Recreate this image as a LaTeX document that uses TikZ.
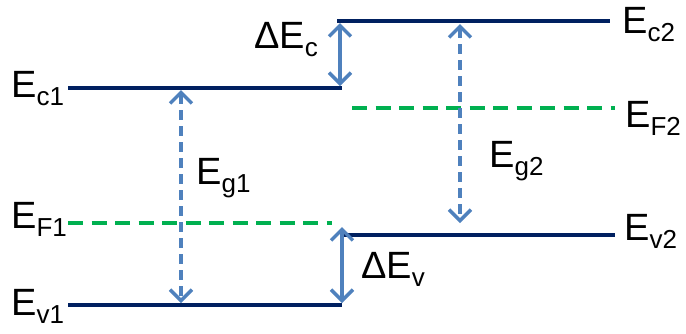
\documentclass[tikz,border=0pt]{standalone}
\usepackage{fontspec}
\setmainfont{Liberation Sans}
\usetikzlibrary{arrows.meta}
\definecolor{bandnavy}{RGB}{0,32,96}
\definecolor{arrowblue}{RGB}{79,129,189}
\definecolor{fermigreen}{RGB}{0,176,80}
% energy symbol with a lowered, smaller subscript
\newcommand\lvl[2]{#1\raisebox{-8pt}{\fontsize{26pt}{26pt}\selectfont #2}}
\tikzset{
  band/.style={draw=bandnavy, line width=4.5pt},
  fermi/.style={draw=fermigreen, line width=4.5pt, dash pattern=on 15pt off 8.5pt},
  offset/.style={draw=arrowblue, line width=3.5pt,
    {Straight Barb[length=11pt,width=22pt,line width=3.5pt]}-{Straight Barb[length=11pt,width=22pt,line width=3.5pt]}},
  gap/.style={offset, dash pattern=on 10pt off 6pt},
  lbl/.style={inner sep=0pt, anchor=base west, font=\fontsize{38pt}{38pt}\selectfont}
}
\begin{document}
\begin{tikzpicture}[x=1pt, y=1pt, yscale=-1]
\useasboundingbox (0,0) rectangle (686,333);

% band edges, left material
\coordinate (c1L) at (68,88);  \coordinate (c1R) at (342,88);
\coordinate (v1L) at (68,305); \coordinate (v1R) at (342,305);
\coordinate (f1L) at (68,223); \coordinate (f1R) at (332,223);
% band edges, right material
\coordinate (c2L) at (337,21); \coordinate (c2R) at (610,21);
\coordinate (v2L) at (343,235); \coordinate (v2R) at (615,235);
\coordinate (f2L) at (352,108); \coordinate (f2R) at (615,108);

\draw[band] (c1L) -- (c1R);
\draw[band] (v1L) -- (v1R);
\draw[band] (c2L) -- (c2R);
\draw[band] (v2L) -- (v2R);
\draw[fermi] (f1L) -- (f1R);
\draw[fermi] (f2L) -- (f2R);

% arrow end points
\coordinate (dcTop) at (340,23);  \coordinate (dcBot) at (340,86);
\coordinate (dvTop) at (342,227); \coordinate (dvBot) at (342,303);
\coordinate (g1Top) at (181,90);  \coordinate (g1Bot) at (181,303);
\coordinate (g2Top) at (460,24);  \coordinate (g2Bot) at (460,223);

\draw[offset] (dcTop) -- (dcBot);
\draw[offset] (dvTop) -- (dvBot);
\draw[gap] (g1Top) -- (g1Bot);
\draw[gap] (g2Top) -- (g2Bot);

% labels
\node[lbl] (tc1) at (11,97)  {\lvl{E}{c1}};
\node[lbl] (tf1) at (11,228) {\lvl{E}{F1}};
\node[lbl] (tv1) at (11,315) {\lvl{E}{v1}};
\node[lbl] (tc2) at (622,33) {\lvl{E}{c2}};
\node[lbl] (tf2) at (625,127) {\lvl{E}{F2}};
\node[lbl] (tv2) at (624,240) {\lvl{E}{v2}};
\node[lbl] (tg1) at (196,184) {\lvl{E}{g1}};
\node[lbl] (tg2) at (489,167) {\lvl{E}{g2}};
\node[lbl] (tdc) at (254,48) {\lvl{ΔE}{c}};
\node[lbl] (tdv) at (361,278) {\lvl{ΔE}{v}};
\end{tikzpicture}
\end{document}
